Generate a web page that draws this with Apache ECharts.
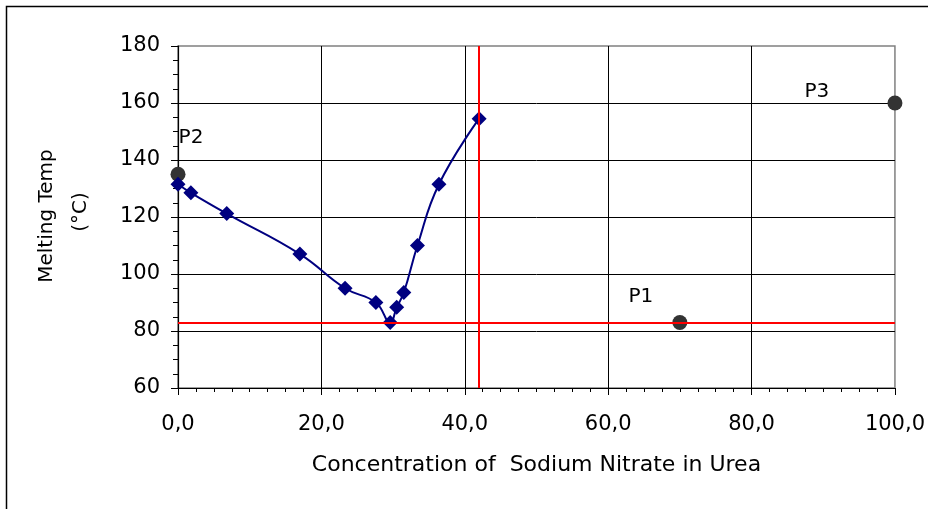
<!DOCTYPE html>
<html>
<head>
<meta charset="utf-8">
<title>Melting Temp vs Sodium Nitrate</title>
<script src="https://cdn.jsdelivr.net/npm/echarts@6.0.0/dist/echarts.min.js"></script>
<style>
  html, body { margin: 0; padding: 0; background: #fff; }
  #chart { width: 928px; height: 509px; }
</style>
</head>
<body>
<div id="chart"></div>
<script>
/* 数据 */
var concentration = [0, 1.8, 6.8, 17.0, 23.3, 27.6, 29.6, 30.5, 31.5, 33.4, 36.4, 42.0];
var meltTemp = [131.5, 128.5, 121.2, 107, 95, 90, 83, 88.3, 93.5, 110, 131.5, 154.5];
var pointNames = ['P1', 'P2', 'P3'];
var pointX = [70, 0, 100];
var pointY = [83, 135, 160];
var refX = 42;   // red vertical line
var refY = 83;   // red horizontal line
var xTitle = 'Concentration of  Sodium Nitrate in Urea';
var yTitle = ['Melting Temp', '(°C)'];

var font = 'DejaVu Sans';
var labelOffsets = [[-39, -26], [13, -36], [-78, -11]];

var curve = concentration.map(function (x, i) { return [x, meltTemp[i]]; });
var points = pointNames.map(function (n, i) {
  return {
    name: n,
    value: [pointX[i], pointY[i]],
    label: { offset: labelOffsets[i] }
  };
});

var myChart = echarts.init(document.getElementById('chart'));
var option = {
  animation: false,
  grid: {
    left: 178, right: 33, top: 46, bottom: 121,
    show: true, borderColor: '#808080', borderWidth: 1.5
  },
  xAxis: {
    type: 'value', min: 0, max: 100, interval: 20,
    name: xTitle, nameLocation: 'middle', nameGap: 66,
    nameTextStyle: { fontFamily: font, fontSize: 22, color: '#000' },
    axisLine: { lineStyle: { color: '#000', width: 1.2 } },
    axisTick: { show: true, length: 7, lineStyle: { color: '#000' } },
    minorTick: { show: true, splitNumber: 8, length: 4, lineStyle: { color: '#000' } },
    axisLabel: {
      margin: 26, fontFamily: font, fontSize: 21, color: '#000',
      formatter: function (v) { return v.toFixed(1).replace('.', ','); }
    },
    splitLine: { show: true, showMinLine: false, showMaxLine: false, lineStyle: { color: '#000', width: 1 } }
  },
  yAxis: {
    type: 'value', min: 60, max: 180, interval: 20,
    axisLine: { show: true, lineStyle: { color: '#000', width: 1.2 } },
    axisTick: { show: true, length: 7, lineStyle: { color: '#000' } },
    minorTick: { show: true, splitNumber: 4, length: 5, lineStyle: { color: '#000' } },
    axisLabel: { margin: 18, fontFamily: font, fontSize: 21, color: '#000' },
    splitLine: { show: true, showMinLine: false, showMaxLine: false, lineStyle: { color: '#000', width: 1 } }
  },
  graphic: [
    { type: 'rect', shape: { x: 6.5, y: 6.5, width: 1000, height: 1000 },
      style: { fill: 'none', stroke: '#000', lineWidth: 1.5 }, silent: true },
    { type: 'text', x: 47, y: 216, rotation: Math.PI / 2,
      style: { text: yTitle[0], fontFamily: font, fontSize: 20, fill: '#000', align: 'center', verticalAlign: 'middle' } },
    { type: 'text', x: 81, y: 212, rotation: Math.PI / 2,
      style: { text: yTitle[1], fontFamily: font, fontSize: 20, fill: '#000', align: 'center', verticalAlign: 'middle' } }
  ],
  series: [
    {
      name: 'points',
      type: 'scatter',
      data: points,
      symbol: 'circle',
      symbolSize: 15,
      clip: false,
      itemStyle: { color: '#333333', opacity: 1 },
      label: {
        show: true, position: 'inside', formatter: '{b}',
        fontFamily: font, fontSize: 20, color: '#000'
      },
      z: 3
    },
    {
      name: 'melting',
      type: 'line',
      data: curve,
      smooth: 0.45,
      symbol: 'diamond',
      symbolSize: 15,
      clip: false,
      lineStyle: { color: '#000080', width: 2 },
      itemStyle: { color: '#000080' },
      markLine: {
        silent: true,
        symbol: 'none',
        label: { show: false },
        lineStyle: { color: '#ff0000', width: 2, type: 'solid' },
        data: [{ xAxis: refX }, { yAxis: refY }]
      },
      z: 4
    }
  ]
};
myChart.setOption(option);
</script>
</body>
</html>
